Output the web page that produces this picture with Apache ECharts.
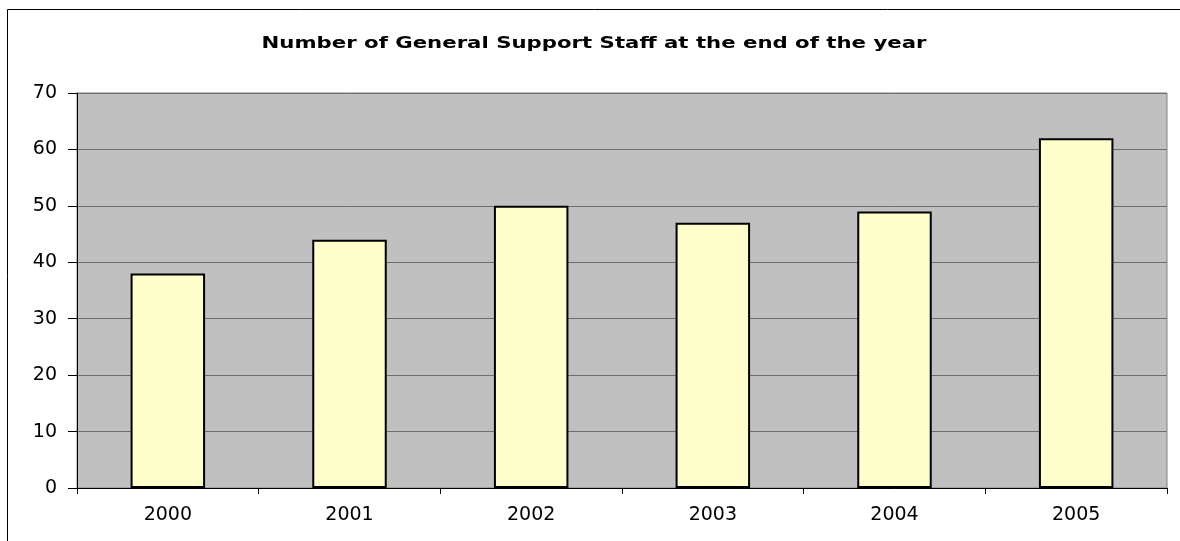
<!DOCTYPE html>
<html>
<head>
<meta charset="utf-8">
<script src="https://cdn.jsdelivr.net/npm/echarts@6/dist/echarts.min.js"></script>
<style>
  html, body { margin: 0; padding: 0; background: #fff; }
  #chart { width: 1180px; height: 541px; }
</style>
</head>
<body>
<div id="chart"></div>
<script>
const years = ['2000', '2001', '2002', '2003', '2004', '2005'];
const staff = [38, 44, 50, 47, 49, 62];
const yMin = 0;
const yMax = 70;
const yStep = 10;
const titleText = 'Number of General Support Staff at the end of the year';

// the original title is drawn wide, so stretch it to the same width
const titleFont = 'bold 15px "DejaVu Sans", sans-serif';
const ctx = document.createElement('canvas').getContext('2d');
ctx.font = titleFont;
const titleScale = 665 / ctx.measureText(titleText).width;

const chart = echarts.init(document.getElementById('chart'));

const option = {
  animation: false,
  backgroundColor: '#ffffff',
  textStyle: { fontFamily: 'DejaVu Sans, sans-serif' },
  graphic: [
    {
      type: 'rect',
      shape: { x: 7.5, y: 9.5, width: 1200, height: 600 },
      style: { fill: 'none', stroke: '#000', lineWidth: 1 },
      silent: true,
      z: -1
    },
    {
      type: 'text',
      x: 594,
      y: 44,
      scaleX: titleScale,
      style: {
        text: titleText,
        font: titleFont,
        fill: '#000',
        textAlign: 'center',
        textVerticalAlign: 'middle'
      },
      silent: true
    }
  ],
  grid: {
    left: 77,
    right: 13,
    top: 93,
    bottom: 53,
    show: true,
    backgroundColor: '#C0C0C0',
    borderColor: '#808080',
    borderWidth: 1
  },
  xAxis: {
    type: 'category',
    data: years,
    axisLine: { lineStyle: { color: '#000', width: 1 } },
    axisTick: { show: true, length: 6, lineStyle: { color: '#000' } },
    axisLabel: { color: '#000', fontSize: 19, margin: 18 },
    splitLine: { show: false }
  },
  yAxis: {
    type: 'value',
    min: yMin,
    max: yMax,
    interval: yStep,
    axisLine: { show: true, lineStyle: { color: '#000', width: 1 } },
    axisTick: { show: true, length: 9, lineStyle: { color: '#000' } },
    axisLabel: { color: '#000', fontSize: 19, margin: 20 },
    splitLine: { show: true, lineStyle: { color: '#6e6e6e', width: 1 } }
  },
  series: [
    {
      type: 'bar',
      data: staff,
      barWidth: '41%',
      itemStyle: {
        color: '#FFFFCC',
        borderColor: '#000',
        borderWidth: 2
      }
    }
  ]
};

chart.setOption(option);
</script>
</body>
</html>
